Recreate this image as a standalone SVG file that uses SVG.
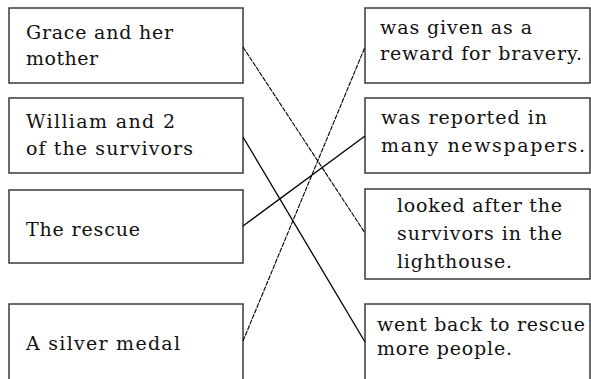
<svg xmlns="http://www.w3.org/2000/svg" width="591" height="379" viewBox="0 0 591 379">
<style>
.box{fill:#fff;stroke:#3a3a3a;stroke-width:1.5}
text{font-family:'DejaVu Serif',serif;font-size:19px;fill:#111}
.ln{stroke:#000;fill:none;stroke-width:1.3}
.lt{stroke:#000;fill:none;stroke-width:1.1;stroke-dasharray:5 1}
</style>
<rect width="591" height="379" fill="#fff"/>
<g id="n-grace"><rect class="box" x="9" y="8" width="234" height="75"/>
<text x="26" y="39" textLength="147">Grace and her</text>
<text x="26" y="65" textLength="72">mother</text></g>
<g id="n-william"><rect class="box" x="9" y="98" width="234" height="75"/>
<text x="26" y="128" textLength="149">William and 2</text>
<text x="26" y="155" textLength="167">of the survivors</text></g>
<g id="n-rescue"><rect class="box" x="9" y="190" width="234" height="73"/>
<text x="26" y="236" textLength="114">The rescue</text></g>
<g id="n-medal"><rect class="box" x="9" y="304" width="234" height="90"/>
<text x="26" y="350" textLength="154">A silver medal</text></g>
<g id="n-reward"><rect class="box" x="365" y="8" width="225" height="75"/>
<text x="380" y="34" textLength="152">was given as a</text>
<text x="380" y="60" textLength="202">reward for bravery.</text></g>
<g id="n-reported"><rect class="box" x="365" y="98" width="225" height="75"/>
<text x="381" y="124" textLength="166">was reported in</text>
<text x="381" y="152" textLength="204">many newspapers.</text></g>
<g id="n-looked"><rect class="box" x="365" y="189" width="225" height="90"/>
<text x="397" y="212" textLength="165">looked after the</text>
<text x="397" y="240" textLength="165">survivors in the</text>
<text x="397" y="268" textLength="115">lighthouse.</text></g>
<g id="n-went"><rect class="box" x="365" y="304" width="225" height="90"/>
<text x="377" y="331" textLength="208">went back to rescue</text>
<text x="377" y="355" textLength="135">more people.</text></g>
<g id="connectors">
<line class="lt" x1="243" y1="47" x2="365" y2="233"/>
<line class="ln" x1="243" y1="137" x2="365" y2="342"/>
<line class="ln" x1="243" y1="226" x2="365" y2="136"/>
<line class="lt" x1="243" y1="341" x2="365" y2="47"/>
</g>
</svg>
